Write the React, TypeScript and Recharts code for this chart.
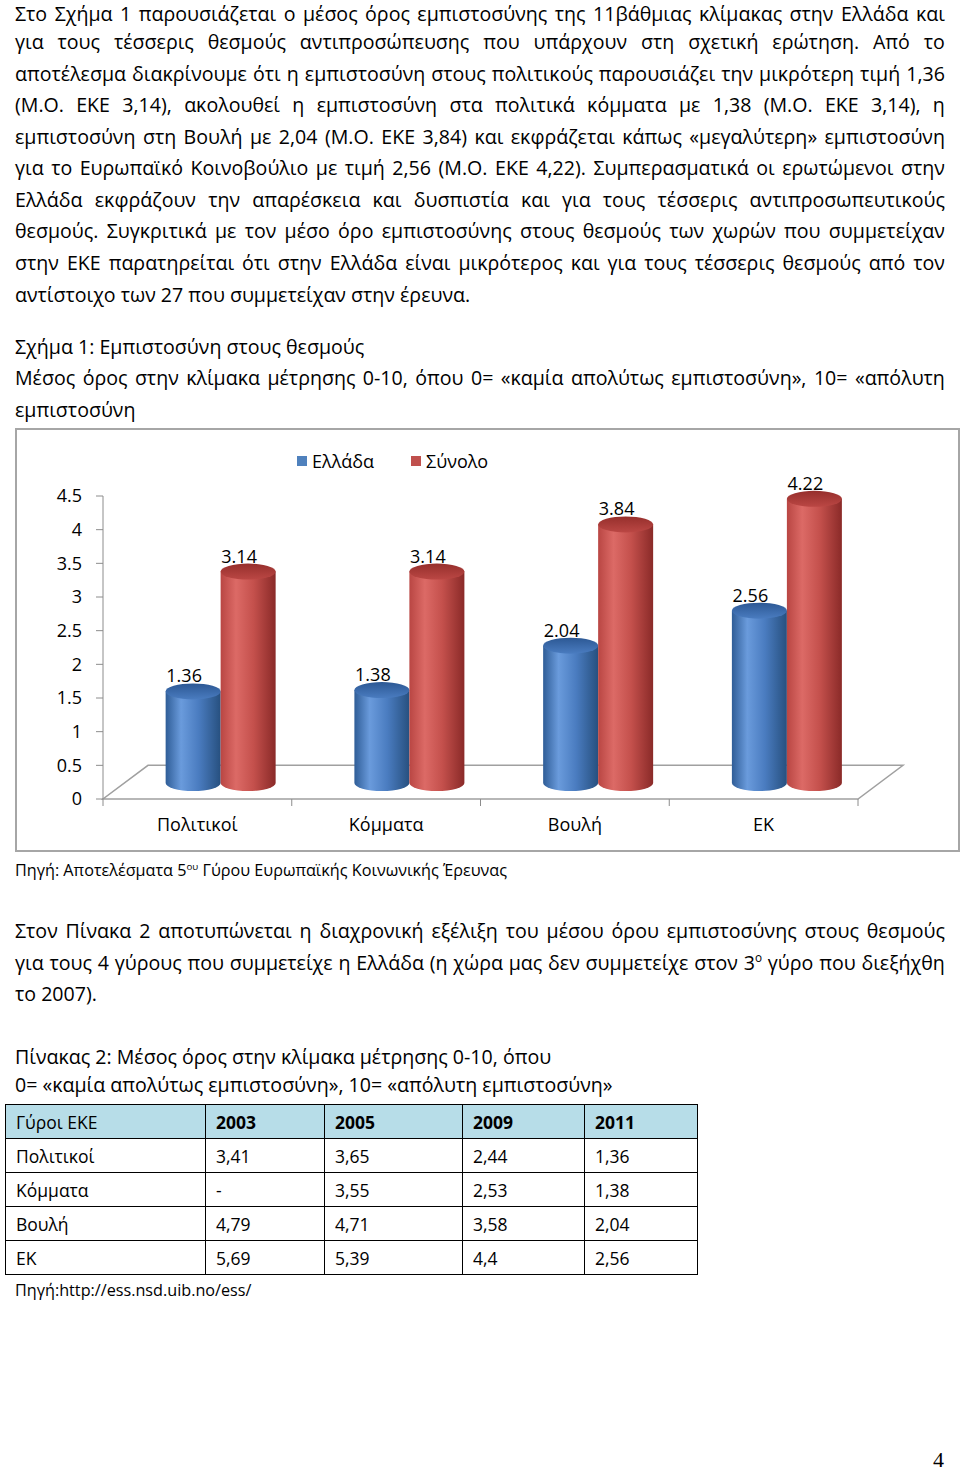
import React from 'react';
import { BarChart, Bar, XAxis, YAxis, Legend, LabelList, ReferenceArea } from 'recharts';

const FONT = "'Open Sans', 'Noto Sans', sans-serif";
const BODY_SIZE = 19.6;
const TABLE_SIZE = 17.5;

// ---------- chart data ----------
const categories = ['Πολιτικοί', 'Κόμματα', 'Βουλή', 'ΕΚ'];
const greeceValues = [1.36, 1.38, 2.04, 2.56];
const totalValues = [3.14, 3.14, 3.84, 4.22];
const seriesNames = ['Ελλάδα', 'Σύνολο'];
const yTicks = [0, 0.5, 1, 1.5, 2, 2.5, 3, 3.5, 4, 4.5];

// ---------- table data ----------
const tableHeader = ['Γύροι ΕΚΕ', '2003', '2005', '2009', '2011'];
const tableInstitutions = ['Πολιτικοί', 'Κόμματα', 'Βουλή', 'ΕΚ'];
const round2003 = ['3,41', '-', '4,79', '5,69'];
const round2005 = ['3,65', '3,55', '4,71', '5,39'];
const round2009 = ['2,44', '2,53', '3,58', '4,4'];
const round2011 = ['1,36', '1,38', '2,04', '2,56'];

// ---------- text ----------
const para1 = [
  'Στο Σχήμα 1 παρουσιάζεται ο μέσος όρος εμπιστοσύνης της 11βάθμιας κλίμακας στην Ελλάδα και',
  'για τους τέσσερις θεσμούς αντιπροσώπευσης που υπάρχουν στη σχετική ερώτηση. Από το',
  'αποτέλεσμα διακρίνουμε ότι η εμπιστοσύνη στους πολιτικούς παρουσιάζει την μικρότερη τιμή 1,36',
  '(Μ.Ο. ΕΚΕ 3,14), ακολουθεί η εμπιστοσύνη στα πολιτικά κόμματα με 1,38 (Μ.Ο. ΕΚΕ 3,14), η',
  'εμπιστοσύνη στη Βουλή με 2,04 (Μ.Ο. ΕΚΕ 3,84) και εκφράζεται κάπως «μεγαλύτερη» εμπιστοσύνη',
  'για το Ευρωπαϊκό Κοινοβούλιο με τιμή 2,56 (Μ.Ο. ΕΚΕ 4,22). Συμπερασματικά οι ερωτώμενοι στην',
  'Ελλάδα εκφράζουν την απαρέσκεια και δυσπιστία και για τους τέσσερις αντιπροσωπευτικούς',
  'θεσμούς. Συγκριτικά με τον μέσο όρο εμπιστοσύνης στους θεσμούς των χωρών που συμμετείχαν',
  'στην ΕΚΕ παρατηρείται ότι στην Ελλάδα είναι μικρότερος και για τους τέσσερις θεσμούς από τον',
];
const para1Last = 'αντίστοιχο των 27 που συμμετείχαν στην έρευνα.';
const para1Y = [14, 42, 73.5, 105, 136.5, 168, 199.5, 231, 263, 294.5];

const para2 = [
  'Στον Πίνακα 2 αποτυπώνεται η διαχρονική εξέλιξη του μέσου όρου εμπιστοσύνης στους θεσμούς',
  'για τους 4 γύρους που συμμετείχε η Ελλάδα (η χώρα μας δεν συμμετείχε στον 3^ο γύρο που διεξήχθη',
];

// ---------- chart styling ----------
const SHIFT_X = 23;
const SHIFT_Y = 16;
const RY = 8;
const FLOOR_DX = 45;
const AXIS_GREY = '#8c8c8c';

const palettes: Record<string, any> = {
  greece: { edge: '#2f5d97', light: '#6a9bdc', mid: '#4a7cc0', dark: '#27507f', top1: '#2c5894', top2: '#4a7cc0' },
  total: { edge: '#b94643', light: '#dc6a66', mid: '#c4504c', dark: '#8a2a28', top1: '#962f2c', top2: '#bb4744' },
};

const makeCylinder = (key: string) => (props: any) => {
  const { x, y, width, height, index } = props;
  if (width == null || height == null) return null;
  const p = palettes[key];
  const x0 = x + SHIFT_X;
  const x1 = x0 + width;
  const top = y - SHIFT_Y;
  const bot = y + height - SHIFT_Y;
  const rx = width / 2;
  const gid = `cyl-${key}-${index}`;
  return (
    <g>
      <defs>
        <linearGradient id={`${gid}-b`} x1="0" y1="0" x2="1" y2="0">
          <stop offset="0%" stopColor={p.edge} />
          <stop offset="28%" stopColor={p.light} />
          <stop offset="60%" stopColor={p.mid} />
          <stop offset="100%" stopColor={p.dark} />
        </linearGradient>
        <linearGradient id={`${gid}-t`} x1="0" y1="0" x2="0" y2="1">
          <stop offset="0%" stopColor={p.top1} />
          <stop offset="100%" stopColor={p.top2} />
        </linearGradient>
      </defs>
      <path
        d={`M${x0},${top} L${x0},${bot} A${rx},${RY} 0 0 0 ${x1},${bot} L${x1},${top} Z`}
        fill={`url(#${gid}-b)`}
      />
      <ellipse cx={x0 + rx} cy={top} rx={rx} ry={RY} fill={`url(#${gid}-t)`} />
    </g>
  );
};

const ValueLabel = (props: any) => {
  const { x, y, width, value } = props;
  if (x == null) return null;
  return (
    <text
      x={x + SHIFT_X + width / 2 - 9}
      y={y - SHIFT_Y - 9}
      textAnchor="middle"
      fontSize={18}
      fontFamily={FONT}
      fill="#000"
    >
      {Number(value).toFixed(2)}
    </text>
  );
};

const Floor = (props: any) => {
  const { x, y, width, height } = props;
  if (x == null) return null;
  const front = y + height;
  const back = y;
  const pts = `${x},${front} ${x + width},${front} ${x + width + FLOOR_DX},${back} ${x + FLOOR_DX},${back}`;
  return <polygon points={pts} fill="#ffffff" stroke="#a0a0a0" strokeWidth={1.5} />;
};

const CategoryTick = (props: any) => {
  const { x, y, payload, index, visibleTicksCount } = props;
  const half = payload && payload.offset ? payload.offset : 94.4;
  return (
    <g>
      <line x1={x - half} y1={y} x2={x - half} y2={y + 7} stroke={AXIS_GREY} />
      {index === visibleTicksCount - 1 && (
        <line x1={x + half} y1={y} x2={x + half} y2={y + 7} stroke={AXIS_GREY} />
      )}
      <text x={x} y={y + 32} textAnchor="middle" fontSize={18} fontFamily={FONT} fill="#000">
        {payload.value}
      </text>
    </g>
  );
};

const LegendContent = (props: any) => {
  const { payload } = props;
  return (
    <div style={{ position: 'relative', width: 230, height: 24, fontFamily: FONT, fontSize: 18 }}>
      {(payload || []).map((e: any, i: number) => (
        <div
          key={i}
          style={{ position: 'absolute', left: i * 114, top: 0, height: 24, display: 'flex', alignItems: 'center', whiteSpace: 'nowrap' }}
        >
          <span style={{ display: 'inline-block', width: 10, height: 10, background: e.color, marginRight: 5 }} />
          <span style={{ lineHeight: '24px', color: '#000' }}>{e.value}</span>
        </div>
      ))}
    </div>
  );
};

const chartData = categories.map((name, i) => ({ name, greece: greeceValues[i], total: totalValues[i] }));

// ---------- text helpers ----------
const LH = 22;

const renderToken = (tok: string, key: number) => {
  if (tok.includes('^')) {
    const [base, sup] = tok.split('^');
    return (
      <span key={key}>
        {base}
        <span style={{ fontSize: '0.6em', position: 'relative', top: '-0.65em' }}>{sup}</span>
      </span>
    );
  }
  return <span key={key}>{tok}</span>;
};

const JLine = ({ text, y, x = 15, w = 930, size = BODY_SIZE }: any) => (
  <div
    style={{
      position: 'absolute', left: x, top: y - LH / 2, width: w, height: LH, lineHeight: `${LH}px`,
      display: 'flex', justifyContent: 'space-between', fontSize: size, whiteSpace: 'nowrap',
    }}
  >
    {text.split(/\s+/).map((t: string, i: number) => renderToken(t, i))}
  </div>
);

const Line = ({ children, y, x = 15, size = BODY_SIZE }: any) => (
  <div style={{ position: 'absolute', left: x, top: y - LH / 2, height: LH, lineHeight: `${LH}px`, whiteSpace: 'nowrap', fontSize: size }}>
    {children}
  </div>
);

const colWidths = [200, 119, 138, 122, 113];

const TrustTable = () => {
  const rows = tableInstitutions.map((name, i) => [name, round2003[i], round2005[i], round2009[i], round2011[i]]);
  const cell: React.CSSProperties = {
    border: '1px solid #000', padding: '0 0 0 10px', height: 33, fontSize: TABLE_SIZE, textAlign: 'left', verticalAlign: 'middle',
  };
  return (
    <table
      style={{ position: 'absolute', left: 5, top: 1104, borderCollapse: 'collapse', tableLayout: 'fixed', width: 692, fontFamily: FONT, color: '#000' }}
    >
      <colgroup>
        {colWidths.map((w, i) => <col key={i} style={{ width: w }} />)}
      </colgroup>
      <tbody>
        <tr style={{ background: '#b7dde8' }}>
          {tableHeader.map((h, i) => (
            <td key={i} style={{ ...cell, fontWeight: i === 0 ? 400 : 700 }}>{h}</td>
          ))}
        </tr>
        {rows.map((r, ri) => (
          <tr key={ri}>
            {r.map((c, ci) => <td key={ci} style={cell}>{c}</td>)}
          </tr>
        ))}
      </tbody>
    </table>
  );
};

export default function App() {
  return (
    <div style={{ position: 'absolute', left: 0, top: 0, width: 960, height: 1471, background: '#fff', fontFamily: FONT, color: '#000', overflow: 'hidden' }}>
      {para1.map((t, i) => <JLine key={i} text={t} y={para1Y[i]} />)}
      <Line y={para1Y[9]}>{para1Last}</Line>

      <Line y={347}>Σχήμα 1: Εμπιστοσύνη στους θεσμούς</Line>
      <JLine y={378} text="Μέσος όρος στην κλίμακα μέτρησης 0-10, όπου 0= «καμία απολύτως εμπιστοσύνη», 10= «απόλυτη" />
      <Line y={410}>εμπιστοσύνη</Line>

      <div style={{ position: 'absolute', left: 15, top: 428, width: 945, height: 424, border: '2px solid #a6a6a6', boxSizing: 'border-box', background: '#fff' }}>
        <BarChart
          width={941}
          height={420}
          data={chartData}
          margin={{ top: 66, right: 100, bottom: 21, left: 26 }}
          barCategoryGap="21%"
          barGap={0}
        >
          <ReferenceArea y1={0} y2={0.5} shape={Floor} ifOverflow="visible" />
          <XAxis dataKey="name" axisLine={false} tickLine={false} tickSize={0} tickMargin={0} height={30} interval={0} tick={CategoryTick} />
          <YAxis
            domain={[0, 4.5]}
            ticks={yTicks}
            interval={0}
            width={60}
            tickSize={7}
            tickMargin={14}
            axisLine={{ stroke: AXIS_GREY }}
            tickLine={{ stroke: AXIS_GREY }}
            tick={{ fill: '#000', fontSize: 18, fontFamily: FONT }}
            tickFormatter={(v: number) => String(v)}
          />
          <Legend
            layout="horizontal"
            verticalAlign="middle"
            align="center"
            content={LegendContent}
            wrapperStyle={{ left: 280, top: 19, width: 240, height: 24 }}
          />
          <Bar dataKey="greece" name={seriesNames[0]} fill="#4f81bd" shape={makeCylinder('greece')} isAnimationActive={false}>
            <LabelList dataKey="greece" content={ValueLabel} />
          </Bar>
          <Bar dataKey="total" name={seriesNames[1]} fill="#c0504d" shape={makeCylinder('total')} isAnimationActive={false}>
            <LabelList dataKey="total" content={ValueLabel} />
          </Bar>
        </BarChart>
      </div>

      <Line y={870} size={16.2}>
        Πηγή: Αποτελέσματα 5<span style={{ fontSize: '0.6em', position: 'relative', top: '-0.65em' }}>ου</span> Γύρου Ευρωπαϊκής Κοινωνικής Έρευνας
      </Line>

      <JLine y={931} text={para2[0]} />
      <JLine y={962.5} text={para2[1]} />
      <Line y={994}>το 2007).</Line>

      <Line y={1057}>Πίνακας 2: Μέσος όρος στην κλίμακα μέτρησης 0-10, όπου</Line>
      <Line y={1085}>0= «καμία απολύτως εμπιστοσύνη», 10= «απόλυτη εμπιστοσύνη»</Line>

      <TrustTable />

      <Line y={1290} size={16.2}>Πηγή:http://ess.nsd.uib.no/ess/</Line>

      <div style={{ position: 'absolute', left: 933, top: 1446, fontFamily: "'Liberation Serif', 'DejaVu Serif', serif", fontSize: 22, lineHeight: '28px' }}>4</div>
    </div>
  );
}
